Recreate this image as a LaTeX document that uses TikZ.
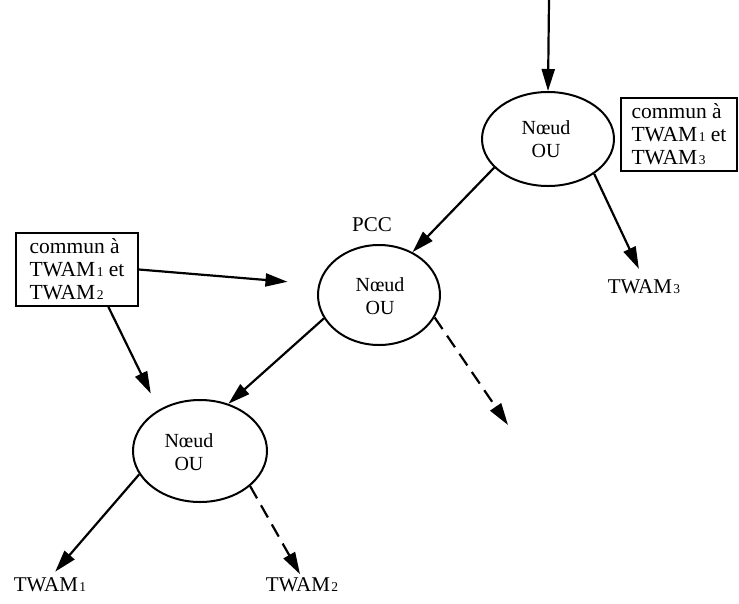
\documentclass[tikz,border=0pt]{standalone}
\usepackage{fontspec}
\setmainfont{Liberation Serif}
\usetikzlibrary{shapes.geometric,arrows.meta}
% small index digit after TWAM
\newcommand\smalldig[1]{\kern1.5pt{\fontsize{13.5}{13.5}\selectfont #1}}
\begin{document}
\begin{tikzpicture}[x=1pt,y=-1pt,
  lbl/.style={inner sep=0pt, font=\fontsize{21}{24}\selectfont},
  ounode/.style={draw, ellipse, line width=2pt, inner sep=0pt},
  outext/.style={inner sep=0pt, align=center, font=\fontsize{20}{22.5}\selectfont},
  infobox/.style={draw, rectangle, line width=1.8pt, inner sep=0pt, align=left,
    minimum height=73pt, font=\fontsize{21.5}{23}\selectfont},
  link/.style={line width=2.2pt, -{Triangle[length=22pt,width=13pt]}},
  maybe/.style={link, dash pattern=on 14pt off 8pt}]
\useasboundingbox (0,0) rectangle (739,603);

% OR nodes
\node[ounode, minimum width=132pt, minimum height=94pt] (e1) at (548,139) {};
\node[outext] (e1t) at (546,139) {Nœud\\OU};
\node[ounode, minimum width=122pt, minimum height=100pt] (e2) at (379,295) {};
\node[outext] (e2t) at (380,296) {Nœud\\OU};
\node[ounode, minimum width=134pt, minimum height=102pt] (e3) at (200,451) {};
\node[outext] (e3t) at (189,452) {Nœud\\OU};

\node[lbl] (pcc) at (372,225) {PCC};

% shared-part boxes
\node[infobox, minimum width=116pt] (b1) at (679,134.5)
  {commun à\\TWAM\smalldig{1} et\\TWAM\smalldig{3}};
\node[infobox, minimum width=122pt] (b2) at (77,269.5)
  {commun à\\TWAM\smalldig{1} et\\TWAM\smalldig{2}};

% leaves
\node[lbl] (t1) at (50,585) {TWAM\smalldig{1}};
\node[lbl] (t2) at (302,585) {TWAM\smalldig{2}};
\node[lbl] (t3) at (644,287) {TWAM\smalldig{3}};

\coordinate (src) at (549,0);
\coordinate (open) at (508,425);

% connectors
\draw[link] (src) -- (e1.north);
\draw[link] (e1.208) -- (e2.52);
\draw[link, shorten >=12pt] (e1.-37) -- (t3.north);
\draw[link, shorten >=31pt] (b2.east) -- (e2.170);
\draw[link, shorten >=18pt] (b2.-50.6) -- (e3.135);
\draw[link] (e2.203) -- (e3.59);
\draw[maybe] (e2.-22) -- (open);
\draw[link, shorten >=8pt] (e3.201) -- (t1.north);
\draw[maybe, shorten >=4pt] (e3.-35) -- (t2.north);
\end{tikzpicture}
\end{document}
